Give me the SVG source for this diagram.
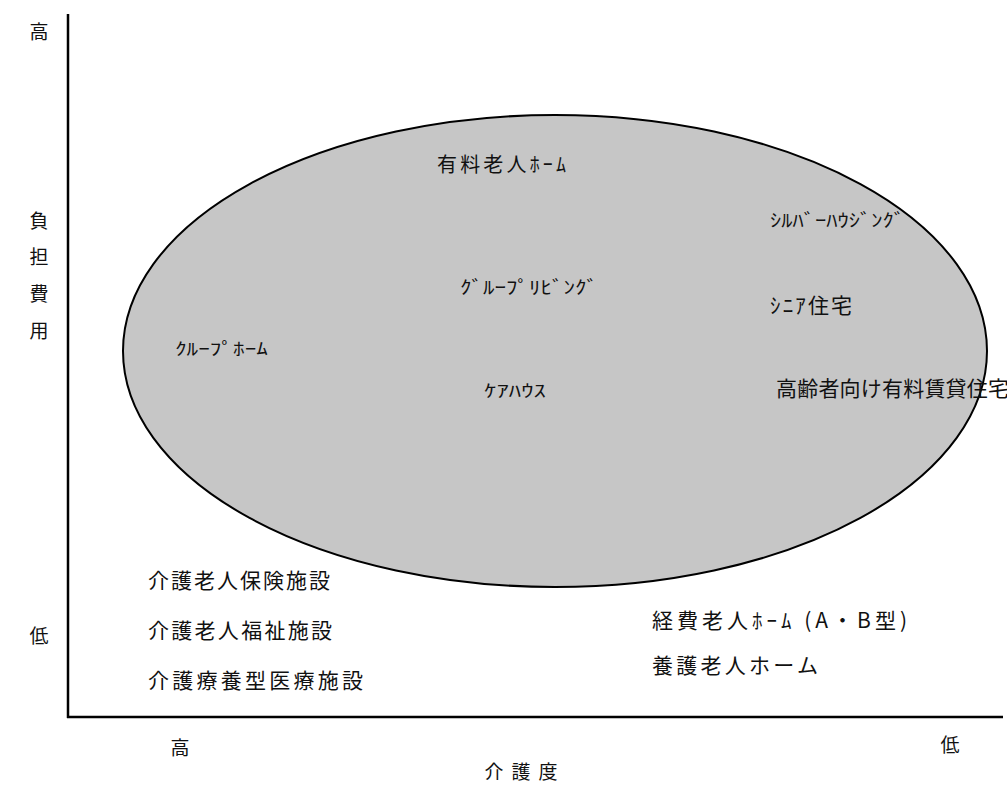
<svg xmlns="http://www.w3.org/2000/svg" width="1007" height="785" viewBox="0 0 1007 785">
<style>
text { font-family: "Noto Sans CJK JP", "Noto Sans", sans-serif; fill: #111; }
.ax { font-size: 19px; text-anchor: middle; }
.lb { font-size: 18px; }
.axis { stroke: #000; stroke-width: 2.5; fill: none; }
</style>
<rect width="1007" height="785" fill="#fff"/>
<g id="area">
<ellipse cx="555" cy="351" rx="432" ry="236" fill="#c6c6c6" stroke="#000" stroke-width="2"/>
</g>
<g id="axes">
<line class="axis" x1="68" y1="14" x2="68" y2="718"/>
<line class="axis" x1="67" y1="717" x2="1003" y2="717"/>
</g>
<g id="axis-labels">
<text class="ax" x="39" y="39">高</text>
<text class="ax" x="39" y="228">負</text>
<text class="ax" x="39" y="264">担</text>
<text class="ax" x="39" y="301">費</text>
<text class="ax" x="39" y="338">用</text>
<text class="ax" x="39" y="643">低</text>
<text class="ax" x="180" y="755">高</text>
<text class="ax" x="950" y="752">低</text>
<text class="ax" x="494" y="779">介</text>
<text class="ax" x="521" y="779">護</text>
<text class="ax" x="548" y="779">度</text>
</g>
<g id="n-yuryo"><text class="lb" x="437" y="172" style="font-size:20px" textLength="129" lengthAdjust="spacing">有料老人ﾎｰﾑ</text></g>
<g id="n-silver"><text class="lb" x="770" y="227" font-size="18" textLength="135" lengthAdjust="spacingAndGlyphs">ｼﾙﾊﾞｰﾊｳｼﾞﾝｸﾞ</text></g>
<g id="n-groupliving"><text class="lb" x="460" y="294" font-size="18" textLength="138" lengthAdjust="spacingAndGlyphs">ｸﾞﾙｰﾌﾟﾘﾋﾞﾝｸﾞ</text></g>
<g id="n-senior"><text class="lb" x="770" y="313" style="font-size:21px" textLength="82" lengthAdjust="spacing">ｼﾆｱ住宅</text></g>
<g id="n-grouphome"><text class="lb" x="175" y="355" style="font-size:17px" textLength="93" lengthAdjust="spacingAndGlyphs">ｸﾙｰﾌﾟﾎｰﾑ</text></g>
<g id="n-carehouse"><text class="lb" x="484" y="397" style="font-size:17px" textLength="62" lengthAdjust="spacingAndGlyphs">ｹｱﾊｳｽ</text></g>
<g id="n-koreisha"><text class="lb" x="776" y="396" style="font-size:21px" textLength="233" lengthAdjust="spacing">高齢者向け有料賃貸住宅</text></g>
<g id="n-hoken"><text class="lb" x="148" y="588" style="font-size:21px" textLength="182" lengthAdjust="spacing">介護老人保険施設</text></g>
<g id="n-fukushi"><text class="lb" x="148" y="638" style="font-size:21px" textLength="184" lengthAdjust="spacing">介護老人福祉施設</text></g>
<g id="n-ryoyo"><text class="lb" x="148" y="688" style="font-size:21px" textLength="215" lengthAdjust="spacing">介護療養型医療施設</text></g>
<g id="n-keihi"><text class="lb" x="652" y="628" style="font-size:21px" textLength="255" lengthAdjust="spacing">経費老人ﾎｰﾑ (A・B型)</text></g>
<g id="n-yogo"><text class="lb" x="652" y="673" style="font-size:21px" textLength="166" lengthAdjust="spacing">養護老人ホーム</text></g>
<g id="connectors"></g>
</svg>
